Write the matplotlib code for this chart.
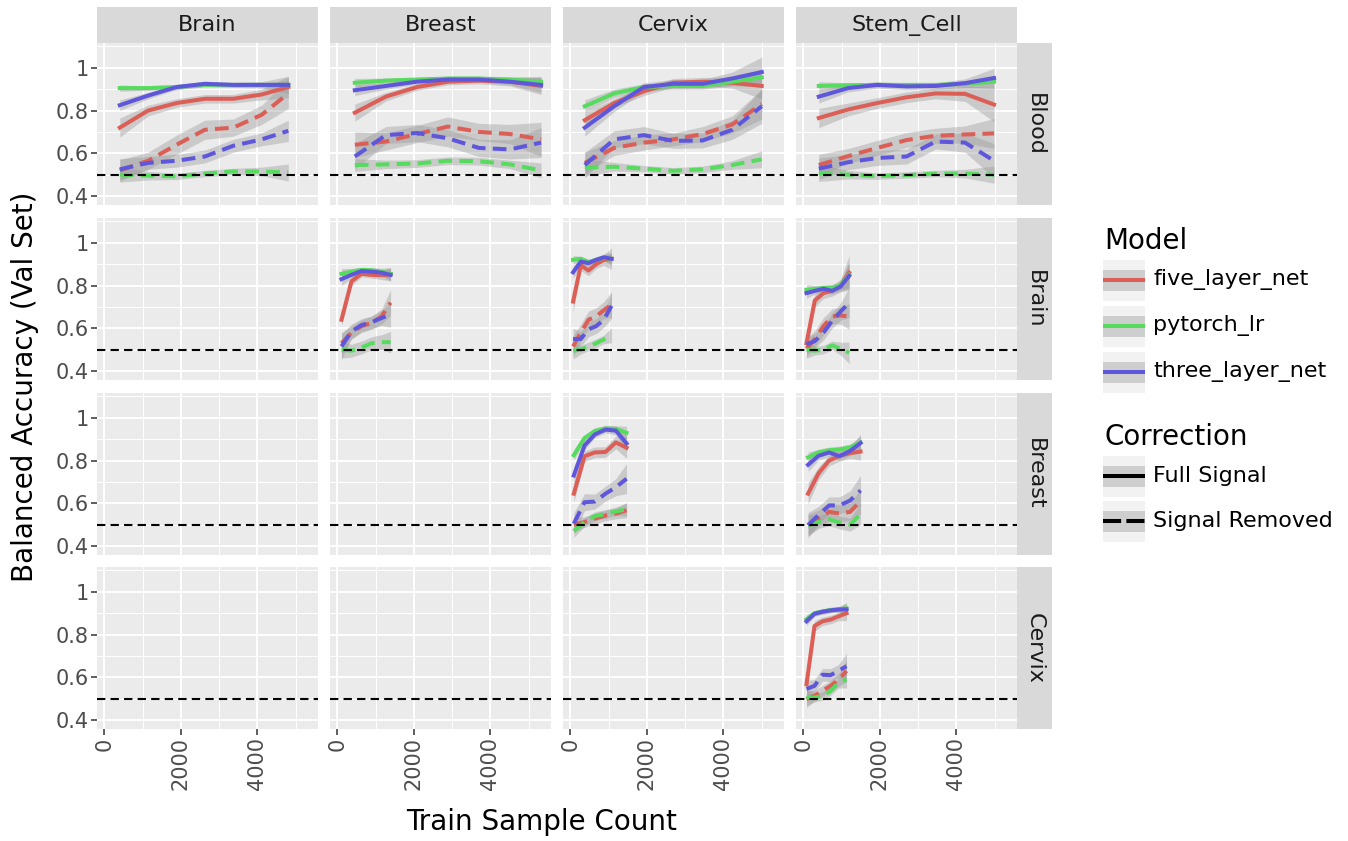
import numpy as np
import matplotlib
matplotlib.use("Agg")
import matplotlib.pyplot as plt
from matplotlib.patches import Rectangle

# facet labels, legend entries
row_labels = ["Blood", "Brain", "Breast", "Cervix"]
col_labels = ["Brain", "Breast", "Cervix", "Stem_Cell"]
models = ["five_layer_net", "pytorch_lr", "three_layer_net"]
model_colors = ["#DB5F57", "#57DB5F", "#5F57DB"]
corrections = ["Full Signal", "Signal Removed"]

y_ticks = [0.4, 0.6, 0.8, 1.0]
y_tick_labels = ["0.4", "0.6", "0.8", "1"]
y_minor = [0.5, 0.7, 0.9, 1.1]
x_ticks = [0, 2000, 4000]
x_tick_labels = ["0", "2000", "4000"]
x_minor = [1000, 3000, 5000]
chance_level = 0.5

# curve order inside every panel list:
# five/full, five/removed, lr/full, lr/removed, three/full, three/removed
curve_keys = [(m, c) for m in models for c in corrections]

blood_brain_x = [405, 1145, 1888, 2627, 3367, 4110, 4805]
blood_brain_y = [
    [0.72, 0.80, 0.835, 0.855, 0.855, 0.875, 0.91],
    [0.52, 0.565, 0.64, 0.71, 0.72, 0.78, 0.88],
    [0.905, 0.905, 0.91, 0.92, 0.92, 0.92, 0.92],
    [0.50, 0.495, 0.492, 0.505, 0.515, 0.515, 0.51],
    [0.825, 0.87, 0.91, 0.925, 0.92, 0.92, 0.92],
    [0.525, 0.555, 0.565, 0.585, 0.635, 0.665, 0.705],
]
blood_brain_se = [
    [0.045, 0.025, 0.02, 0.02, 0.02, 0.025, 0.05],
    [0.05, 0.04, 0.045, 0.045, 0.04, 0.045, 0.07],
    [0.015, 0.01, 0.01, 0.01, 0.01, 0.01, 0.02],
    [0.035, 0.02, 0.015, 0.015, 0.015, 0.02, 0.04],
    [0.025, 0.015, 0.012, 0.012, 0.012, 0.015, 0.04],
    [0.05, 0.03, 0.03, 0.03, 0.03, 0.03, 0.05],
]

blood_breast_x = [458, 1268, 2078, 2889, 3699, 4510, 5320]
blood_breast_y = [
    [0.79, 0.865, 0.91, 0.935, 0.94, 0.935, 0.915],
    [0.64, 0.655, 0.69, 0.725, 0.70, 0.69, 0.665],
    [0.93, 0.94, 0.945, 0.95, 0.95, 0.945, 0.935],
    [0.545, 0.548, 0.552, 0.565, 0.563, 0.548, 0.52],
    [0.895, 0.915, 0.935, 0.945, 0.945, 0.935, 0.92],
    [0.585, 0.685, 0.695, 0.67, 0.625, 0.618, 0.65],
]
blood_breast_se = [
    [0.04, 0.02, 0.015, 0.015, 0.015, 0.02, 0.04],
    [0.06, 0.04, 0.04, 0.045, 0.04, 0.045, 0.08],
    [0.02, 0.012, 0.01, 0.01, 0.01, 0.012, 0.025],
    [0.03, 0.02, 0.018, 0.018, 0.018, 0.02, 0.035],
    [0.025, 0.015, 0.012, 0.012, 0.012, 0.015, 0.035],
    [0.06, 0.04, 0.04, 0.04, 0.04, 0.045, 0.07],
]

blood_cervix_x = [379, 1145, 1922, 2688, 3456, 4230, 4999]
blood_cervix_y = [
    [0.755, 0.835, 0.89, 0.93, 0.935, 0.93, 0.915],
    [0.555, 0.625, 0.65, 0.665, 0.69, 0.735, 0.83],
    [0.82, 0.88, 0.91, 0.915, 0.915, 0.935, 0.955],
    [0.533, 0.537, 0.528, 0.518, 0.525, 0.545, 0.572],
    [0.72, 0.82, 0.91, 0.925, 0.925, 0.95, 0.98],
    [0.545, 0.665, 0.685, 0.658, 0.66, 0.71, 0.82],
]
blood_cervix_se = [
    [0.035, 0.02, 0.02, 0.02, 0.02, 0.025, 0.06],
    [0.05, 0.035, 0.035, 0.03, 0.035, 0.04, 0.07],
    [0.03, 0.02, 0.015, 0.015, 0.015, 0.02, 0.04],
    [0.04, 0.02, 0.015, 0.015, 0.015, 0.02, 0.04],
    [0.04, 0.025, 0.02, 0.02, 0.02, 0.03, 0.07],
    [0.06, 0.04, 0.04, 0.035, 0.035, 0.045, 0.08],
]

blood_stem_x = [405, 1171, 1929, 2698, 3456, 4222, 4980]
blood_stem_y = [
    [0.765, 0.805, 0.835, 0.862, 0.88, 0.878, 0.828],
    [0.545, 0.587, 0.625, 0.662, 0.682, 0.688, 0.693],
    [0.915, 0.918, 0.92, 0.92, 0.92, 0.925, 0.935],
    [0.508, 0.50, 0.493, 0.498, 0.505, 0.505, 0.50],
    [0.865, 0.905, 0.92, 0.913, 0.915, 0.928, 0.952],
    [0.528, 0.558, 0.578, 0.585, 0.655, 0.65, 0.565],
]
blood_stem_se = [
    [0.045, 0.03, 0.025, 0.025, 0.025, 0.035, 0.08],
    [0.05, 0.035, 0.035, 0.035, 0.035, 0.04, 0.07],
    [0.02, 0.012, 0.01, 0.01, 0.01, 0.015, 0.03],
    [0.04, 0.02, 0.015, 0.015, 0.015, 0.02, 0.04],
    [0.03, 0.018, 0.015, 0.015, 0.015, 0.02, 0.045],
    [0.05, 0.035, 0.035, 0.035, 0.035, 0.045, 0.08],
]

brain_breast_x = [110, 371, 633, 894, 1156, 1391]
brain_breast_y = [
    [0.64, 0.82, 0.855, 0.85, 0.848, 0.852],
    [0.53, 0.58, 0.61, 0.625, 0.655, 0.72],
    [0.855, 0.865, 0.873, 0.872, 0.865, 0.855],
    [0.50, 0.495, 0.51, 0.53, 0.535, 0.535],
    [0.83, 0.85, 0.868, 0.865, 0.86, 0.85],
    [0.515, 0.585, 0.615, 0.628, 0.648, 0.665],
]
brain_breast_se = [
    [0.03, 0.02, 0.015, 0.015, 0.02, 0.03],
    [0.05, 0.03, 0.03, 0.03, 0.035, 0.06],
    [0.025, 0.015, 0.012, 0.012, 0.015, 0.03],
    [0.04, 0.03, 0.03, 0.03, 0.035, 0.05],
    [0.03, 0.015, 0.012, 0.012, 0.015, 0.03],
    [0.06, 0.035, 0.03, 0.03, 0.035, 0.06],
]

brain_cervix_x = [73, 275, 476, 675, 876, 1077]
brain_cervix_y = [
    [0.725, 0.895, 0.87, 0.9, 0.92, 0.925],
    [0.515, 0.58, 0.64, 0.655, 0.685, 0.71],
    [0.92, 0.925, 0.91, 0.92, 0.93, 0.925],
    [0.495, 0.5, 0.515, 0.53, 0.548, 0.567],
    [0.862, 0.912, 0.905, 0.92, 0.932, 0.925],
    [0.55, 0.55, 0.595, 0.61, 0.64, 0.705],
]
brain_cervix_se = [
    [0.05, 0.025, 0.025, 0.02, 0.025, 0.05],
    [0.05, 0.04, 0.04, 0.04, 0.04, 0.06],
    [0.02, 0.012, 0.012, 0.012, 0.012, 0.025],
    [0.04, 0.02, 0.02, 0.02, 0.02, 0.035],
    [0.03, 0.015, 0.015, 0.015, 0.015, 0.03],
    [0.05, 0.035, 0.035, 0.035, 0.035, 0.06],
]

brain_stem_x = [84, 301, 528, 753, 973, 1197]
brain_stem_y = [
    [0.53, 0.73, 0.765, 0.775, 0.8, 0.86],
    [0.505, 0.55, 0.61, 0.655, 0.66, 0.655],
    [0.78, 0.785, 0.788, 0.79, 0.8, 0.85],
    [0.5, 0.495, 0.5, 0.52, 0.505, 0.485],
    [0.765, 0.775, 0.785, 0.775, 0.795, 0.845],
    [0.525, 0.54, 0.58, 0.635, 0.678, 0.72],
]
brain_stem_se = [
    [0.05, 0.03, 0.025, 0.025, 0.03, 0.08],
    [0.04, 0.04, 0.04, 0.035, 0.04, 0.06],
    [0.025, 0.015, 0.015, 0.015, 0.02, 0.06],
    [0.04, 0.02, 0.02, 0.02, 0.03, 0.05],
    [0.025, 0.015, 0.015, 0.015, 0.02, 0.06],
    [0.04, 0.035, 0.035, 0.035, 0.04, 0.07],
]

breast_cervix_x = [92, 371, 641, 920, 1190, 1469]
breast_cervix_y = [
    [0.645, 0.82, 0.838, 0.84, 0.885, 0.86],
    [0.50, 0.512, 0.528, 0.543, 0.552, 0.567],
    [0.825, 0.905, 0.938, 0.95, 0.948, 0.93],
    [0.47, 0.512, 0.54, 0.55, 0.562, 0.572],
    [0.73, 0.87, 0.922, 0.945, 0.94, 0.88],
    [0.505, 0.605, 0.608, 0.645, 0.675, 0.715],
]
breast_cervix_se = [
    [0.04, 0.025, 0.025, 0.025, 0.03, 0.05],
    [0.035, 0.025, 0.025, 0.025, 0.025, 0.035],
    [0.025, 0.015, 0.015, 0.015, 0.015, 0.03],
    [0.03, 0.02, 0.02, 0.02, 0.02, 0.03],
    [0.04, 0.02, 0.015, 0.015, 0.02, 0.04],
    [0.05, 0.04, 0.035, 0.035, 0.04, 0.07],
]

breast_stem_x = [125, 397, 675, 946, 1224, 1495]
breast_stem_y = [
    [0.645, 0.74, 0.8, 0.822, 0.835, 0.842],
    [0.5, 0.528, 0.56, 0.552, 0.56, 0.61],
    [0.815, 0.838, 0.848, 0.852, 0.862, 0.885],
    [0.497, 0.512, 0.525, 0.51, 0.5, 0.55],
    [0.78, 0.822, 0.838, 0.82, 0.845, 0.882],
    [0.497, 0.545, 0.59, 0.59, 0.613, 0.66],
]
breast_stem_se = [
    [0.05, 0.03, 0.025, 0.025, 0.025, 0.04],
    [0.05, 0.04, 0.04, 0.04, 0.04, 0.06],
    [0.025, 0.015, 0.015, 0.015, 0.015, 0.03],
    [0.05, 0.03, 0.03, 0.03, 0.03, 0.05],
    [0.03, 0.02, 0.02, 0.02, 0.02, 0.04],
    [0.06, 0.04, 0.04, 0.04, 0.045, 0.07],
]

cervix_stem_x = [84, 293, 502, 711, 920, 1129]
cervix_stem_y = [
    [0.567, 0.84, 0.862, 0.87, 0.885, 0.9],
    [0.498, 0.513, 0.537, 0.56, 0.588, 0.63],
    [0.872, 0.9, 0.908, 0.915, 0.918, 0.922],
    [0.505, 0.505, 0.512, 0.535, 0.575, 0.59],
    [0.862, 0.897, 0.907, 0.913, 0.917, 0.918],
    [0.545, 0.56, 0.612, 0.61, 0.63, 0.652],
]
cervix_stem_se = [
    [0.04, 0.025, 0.02, 0.02, 0.02, 0.035],
    [0.04, 0.025, 0.025, 0.025, 0.03, 0.05],
    [0.02, 0.012, 0.012, 0.012, 0.012, 0.025],
    [0.035, 0.02, 0.02, 0.02, 0.025, 0.04],
    [0.02, 0.012, 0.012, 0.012, 0.012, 0.03],
    [0.04, 0.03, 0.03, 0.03, 0.03, 0.06],
]

panel_data = {
    ("Blood", "Brain"): (blood_brain_x, blood_brain_y, blood_brain_se),
    ("Blood", "Breast"): (blood_breast_x, blood_breast_y, blood_breast_se),
    ("Blood", "Cervix"): (blood_cervix_x, blood_cervix_y, blood_cervix_se),
    ("Blood", "Stem_Cell"): (blood_stem_x, blood_stem_y, blood_stem_se),
    ("Brain", "Breast"): (brain_breast_x, brain_breast_y, brain_breast_se),
    ("Brain", "Cervix"): (brain_cervix_x, brain_cervix_y, brain_cervix_se),
    ("Brain", "Stem_Cell"): (brain_stem_x, brain_stem_y, brain_stem_se),
    ("Breast", "Cervix"): (breast_cervix_x, breast_cervix_y, breast_cervix_se),
    ("Breast", "Stem_Cell"): (breast_stem_x, breast_stem_y, breast_stem_se),
    ("Cervix", "Stem_Cell"): (cervix_stem_x, cervix_stem_y, cervix_stem_se),
}

# ---- layout (pixels) ----
W, H = 1348, 841
col_left = [97, 330, 563, 796]
row_top = [43, 218, 393, 567]
panel_w, panel_h = 221, 162
x_limits = (-190, 5580)
y_limits = (0.358, 1.116)

line_w = 2.9
dash_style = (0, (3.4, 1.8))
tick_color = "#4D4D4D"


def px_rect(x, y, w, h):
    return [x / W, 1 - (y + h) / H, w / W, h / H]


fig = plt.figure(figsize=(W / 100, H / 100), dpi=100)

for i, row in enumerate(row_labels):
    for j, col in enumerate(col_labels):
        ax = fig.add_axes(px_rect(col_left[j], row_top[i], panel_w, panel_h))
        ax.set_facecolor("#EBEBEB")
        for s in ax.spines.values():
            s.set_visible(False)
        ax.set_xlim(x_limits)
        ax.set_ylim(y_limits)
        ax.set_xticks(x_ticks)
        ax.set_xticks(x_minor, minor=True)
        ax.set_yticks(y_ticks)
        ax.set_yticks(y_minor, minor=True)
        ax.grid(which="major", color="white", lw=1.4)
        ax.grid(which="minor", color="white", lw=0.7)
        ax.set_axisbelow(True)
        ax.tick_params(which="minor", length=0)
        ax.tick_params(which="major", length=4.5, width=1.1, color="#333333",
                       labelsize=15, labelcolor=tick_color, pad=1.5)
        if j == 0:
            ax.set_yticklabels(y_tick_labels)
        else:
            ax.tick_params(axis="y", which="major", length=0, labelleft=False)
        if i == len(row_labels) - 1:
            ax.set_xticklabels(x_tick_labels, rotation=90, va="top")
        else:
            ax.tick_params(axis="x", which="major", length=0, labelbottom=False)

        if (row, col) in panel_data:
            xs, ys, ses = panel_data[(row, col)]
            for k, (model, corr) in enumerate(curve_keys):
                y = np.array(ys[k])
                se = np.array(ses[k])
                color = model_colors[models.index(model)]
                ax.fill_between(xs, y - se, y + se, color="#999999", alpha=0.4, lw=0)
                ax.plot(xs, y, color=color, lw=line_w,
                        ls="-" if corr == "Full Signal" else dash_style,
                        solid_joinstyle="round", dash_joinstyle="round")

        ax.axhline(chance_level, color="black", lw=1.5, ls=(0, (4, 2.5)))

# top strips
for j, col in enumerate(col_labels):
    sax = fig.add_axes(px_rect(col_left[j], 7, panel_w, 36))
    sax.set_facecolor("#D9D9D9")
    sax.set_xticks([])
    sax.set_yticks([])
    for s in sax.spines.values():
        s.set_visible(False)
    sax.text(0.5, 0.5, col, ha="center", va="center", fontsize=16, color="#1A1A1A",
             transform=sax.transAxes)

# right strips
for i, row in enumerate(row_labels):
    sax = fig.add_axes(px_rect(1017, row_top[i], 35, panel_h))
    sax.set_facecolor("#D9D9D9")
    sax.set_xticks([])
    sax.set_yticks([])
    for s in sax.spines.values():
        s.set_visible(False)
    sax.text(0.5, 0.5, row, ha="center", va="center", fontsize=16, color="#1A1A1A",
             rotation=-90, transform=sax.transAxes)

# axis titles
fig.text(25 / W, 1 - 387 / H, "Balanced Accuracy (Val Set)", rotation=90,
         ha="center", va="center", fontsize=20)
fig.text(542 / W, 1 - 822 / H, "Train Sample Count", ha="center", va="center", fontsize=20)

# legend, drawn in pixel units
lax = fig.add_axes(px_rect(1090, 210, 258, 350))
lax.set_xlim(1090, 1348)
lax.set_ylim(560, 210)
lax.axis("off")


def legend_key(yc, color, ls):
    lax.add_patch(Rectangle((1103, yc - 20.5), 42, 41, fc="#F2F2F2", lw=0))
    lax.add_patch(Rectangle((1103, yc - 10.5), 42, 21, fc="#999999", alpha=0.4, lw=0))
    lax.plot([1103, 1145], [yc, yc], color=color, lw=line_w, ls=ls, solid_capstyle="butt")


lax.text(1104, 241, "Model", fontsize=20, ha="left", va="center")
for k, m in enumerate(models):
    yc = 280 + 46 * k
    legend_key(yc, model_colors[k], "-")
    lax.text(1153, yc, m, fontsize=16, ha="left", va="center")

lax.text(1104, 437, "Correction", fontsize=20, ha="left", va="center")
for k, c in enumerate(corrections):
    yc = 476 + 45 * k
    legend_key(yc, "black", "-" if k == 0 else (0, (4.5, 1.3)))
    lax.text(1153, yc, c, fontsize=16, ha="left", va="center")

fig.savefig("out.png", dpi=100)
